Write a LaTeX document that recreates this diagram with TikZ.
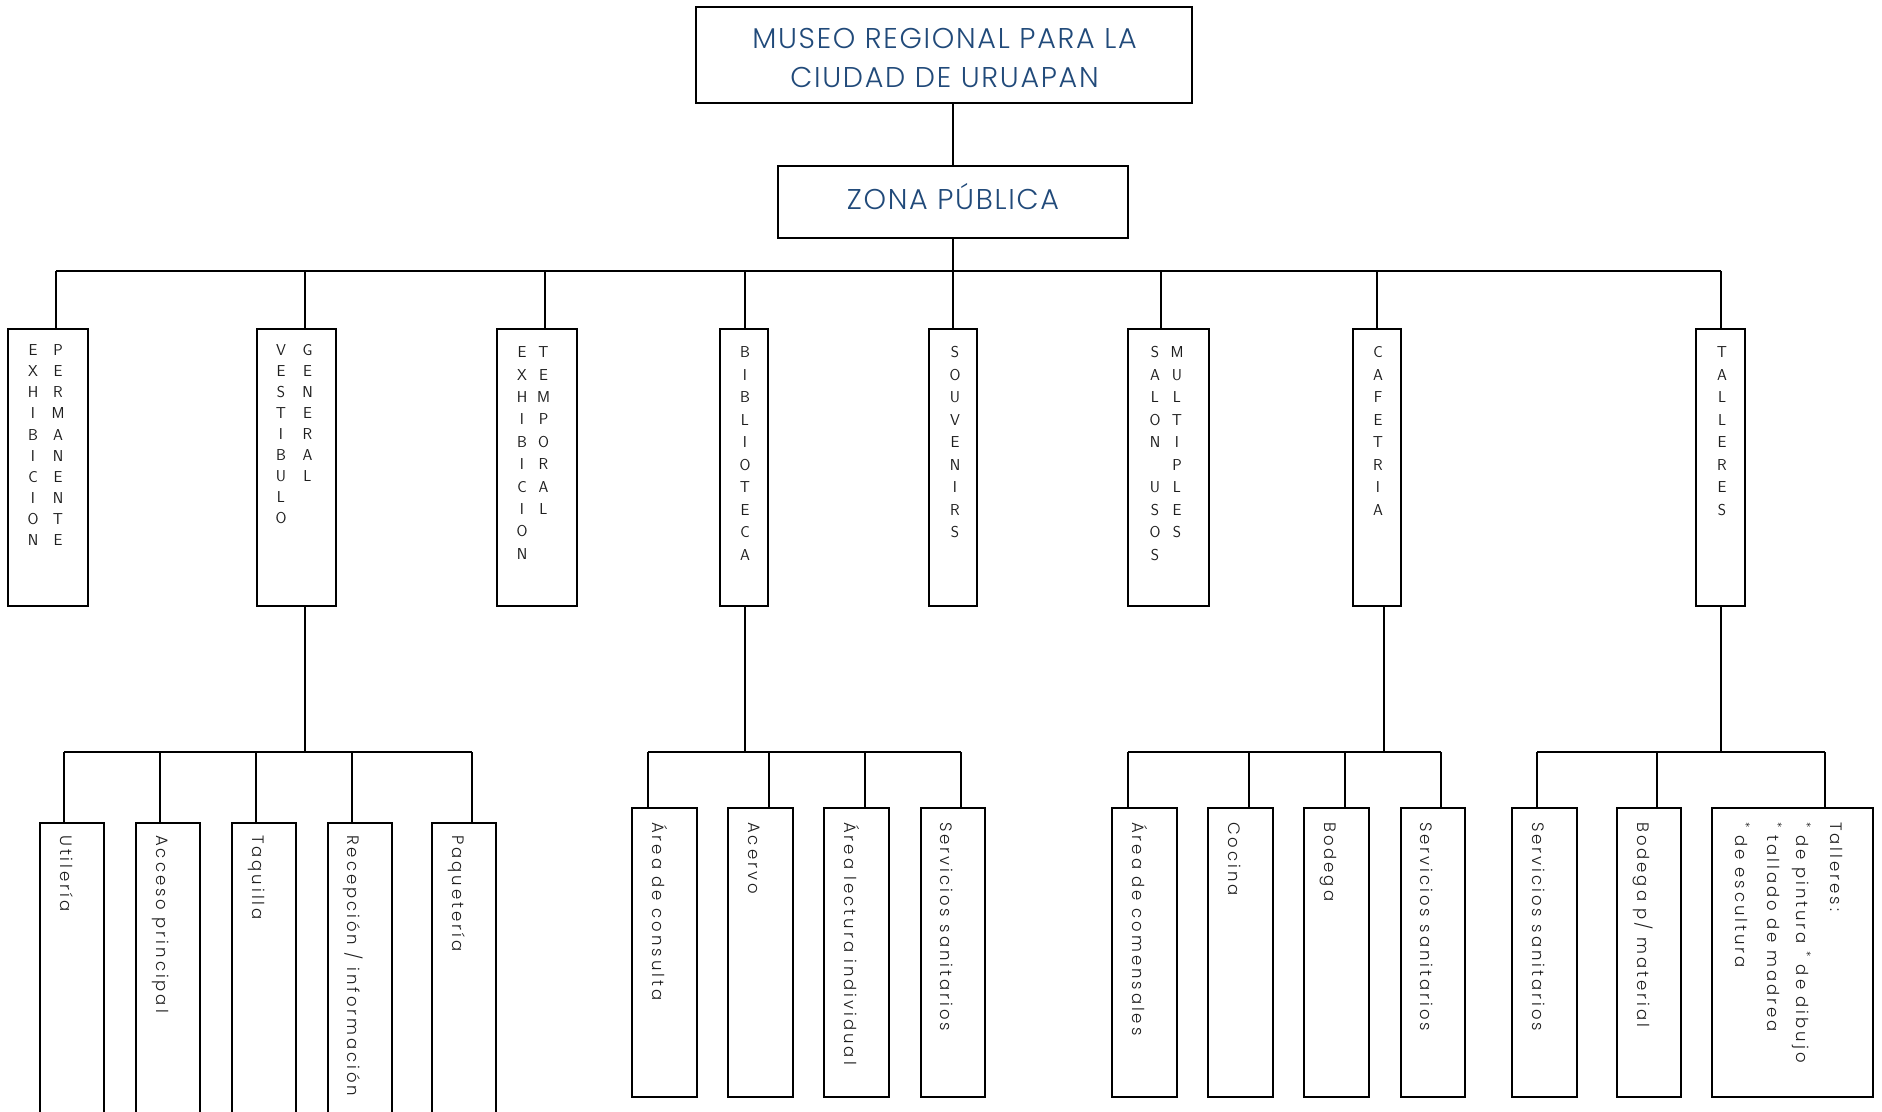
\documentclass[tikz,border=0pt]{standalone}
\usepackage{fontspec}
\newfontfamily\titlefont{Poppins Light}[LetterSpace=6]
\newfontfamily\labelfont{Poppins Light}[LetterSpace=18]
\definecolor{titleblue}{RGB}{33,74,122}
\definecolor{ink}{RGB}{30,30,30}
\begin{document}
\begin{tikzpicture}[x=1pt,y=-1pt,
  box/.style={draw=black, line width=2pt, inner sep=0pt, outer sep=0pt},
  ln/.style={line width=2pt},
  col/.style={font=\sffamily\fontsize{15.8}{#1}\selectfont, align=center, inner sep=0pt, anchor=north, text=ink},
  lbl/.style={font=\labelfont\fontsize{16.5}{16.5}\selectfont, rotate=-90, anchor=base west, inner sep=0pt, text=ink},
  ttl/.style={font=\titlefont\fontsize{28.6}{39}\selectfont, align=center, inner sep=0pt, text=titleblue}]
\clip (0,0) rectangle (1882,1111);
\fill[white] (0,0) rectangle (1882,1111);

% top boxes
\node[box, minimum width=496pt, minimum height=96pt] (title) at (944,55) {};
\node[ttl] (titletext) at (944.5,57.5) {MUSEO REGIONAL PARA LA\\CIUDAD DE URUAPAN};
\node[box, minimum width=350pt, minimum height=72pt] (zona) at (953,202) {};
\node[ttl] (zonatext) at (953,197) {ZONA PÚBLICA};

% level 1 boxes
\node[box, minimum width=80pt, minimum height=277pt] (e1) at (48,467.5) {};
\node[box, minimum width=79pt, minimum height=277pt] (e2) at (296.5,467.5) {};
\node[box, minimum width=80pt, minimum height=277pt] (e3) at (537,467.5) {};
\node[box, minimum width=48pt, minimum height=277pt] (e4) at (744,467.5) {};
\node[box, minimum width=48pt, minimum height=277pt] (e5) at (953,467.5) {};
\node[box, minimum width=81pt, minimum height=277pt] (e6) at (1168.5,467.5) {};
\node[box, minimum width=48pt, minimum height=277pt] (e7) at (1377,467.5) {};
\node[box, minimum width=49pt, minimum height=277pt] (e8) at (1720.5,467.5) {};

% level 1 letters
\node[col=21.1] (e1a) at (33,344.5) {E\\X\\H\\I\\B\\I\\C\\I\\O\\N};
\node[col=21.1] (e1b) at (58,344.5) {P\\E\\R\\M\\A\\N\\E\\N\\T\\E};
\node[col=21.0] (e2a) at (281,344.5) {V\\E\\S\\T\\I\\B\\U\\L\\O};
\node[col=21.0] (e2b) at (307.5,344.5) {G\\E\\N\\E\\R\\A\\L};
\node[col=22.4] (e3a) at (522,346.5) {E\\X\\H\\I\\B\\I\\C\\I\\O\\N};
\node[col=22.4] (e3b) at (543.5,346.5) {T\\E\\M\\P\\O\\R\\A\\L};
\node[col=22.5] (e4a) at (745,346.5) {B\\I\\B\\L\\I\\O\\T\\E\\C\\A};
\node[col=22.5] (e5a) at (955,346.5) {S\\O\\U\\V\\E\\N\\I\\R\\S};
\node[col=22.5] (e6a) at (1155,346.5) {S\\A\\L\\O\\N\\~\\U\\S\\O\\S};
\node[col=22.5] (e6b) at (1177,346.5) {M\\U\\L\\T\\I\\P\\L\\E\\S};
\node[col=22.5] (e7a) at (1378,346.5) {C\\A\\F\\E\\T\\R\\I\\A};
\node[col=22.5] (e8a) at (1722,346.5) {T\\A\\L\\L\\E\\R\\E\\S};

% level 2 boxes: vestibulo
\node[box, minimum width=64pt, minimum height=307pt] (v1) at (72,976.5) {};
\node[box, minimum width=64pt, minimum height=307pt] (v2) at (168,976.5) {};
\node[box, minimum width=64pt, minimum height=307pt] (v3) at (264,976.5) {};
\node[box, minimum width=64pt, minimum height=307pt] (v4) at (360,976.5) {};
\node[box, minimum width=64pt, minimum height=307pt] (v5) at (464,976.5) {};
% biblioteca
\node[box, minimum width=65pt, minimum height=289pt] (b1) at (664.5,952.5) {};
\node[box, minimum width=65pt, minimum height=289pt] (b2) at (760.5,952.5) {};
\node[box, minimum width=65pt, minimum height=289pt] (b3) at (856.5,952.5) {};
\node[box, minimum width=64pt, minimum height=289pt] (b4) at (953,952.5) {};
% cafeteria
\node[box, minimum width=65pt, minimum height=289pt] (c1) at (1144.5,952.5) {};
\node[box, minimum width=65pt, minimum height=289pt] (c2) at (1240.5,952.5) {};
\node[box, minimum width=65pt, minimum height=289pt] (c3) at (1336.5,952.5) {};
\node[box, minimum width=64pt, minimum height=289pt] (c4) at (1433,952.5) {};
% talleres
\node[box, minimum width=65pt, minimum height=289pt] (t1) at (1544.5,952.5) {};
\node[box, minimum width=64pt, minimum height=289pt] (t2) at (1649,952.5) {};
\node[box, minimum width=161pt, minimum height=289pt] (t3) at (1792.5,952.5) {};

% level 2 labels
\node[lbl] (v1t) at (60,835) {Utilería};
\node[lbl] (v2t) at (156,835) {Acceso principal};
\node[lbl] (v3t) at (252,835) {Taquilla};
\node[lbl] (v4t) at (347,835) {Recepción / información};
\node[lbl] (v5t) at (452,835) {Paquetería};
\node[lbl] (b1t) at (652,822) {Área de consulta};
\node[lbl] (b2t) at (748,822) {Acervo};
\node[lbl] (b3t) at (844,822) {Área lectura individual};
\node[lbl] (b4t) at (940,822) {Servicios sanitarios};
\node[lbl] (c1t) at (1132,822) {Área de comensales};
\node[lbl] (c2t) at (1228,822) {Cocina};
\node[lbl] (c3t) at (1324,822) {Bodega};
\node[lbl] (c4t) at (1420,822) {Servicios sanitarios};
\node[lbl] (t1t) at (1532,822) {Servicios sanitarios};
\node[lbl] (t2t) at (1637,822) {Bodega p/ material};
\node[lbl] (t3a) at (1830,822) {Talleres:};
\node[lbl] (t3b) at (1796,822) {\textsuperscript{*} de pintura \textsuperscript{*} de dibujo};
\node[lbl] (t3c) at (1767,822) {\textsuperscript{*} tallado de madrea};
\node[lbl] (t3d) at (1735,822) {\textsuperscript{*} de escultura};

% connectors top
\coordinate (zb) at (953,271);
\draw[ln] (zona.north) -- (zona.north |- title.south);
\draw[ln] (zona.south) -- (zb);
\coordinate (k1) at (56,271);
\coordinate (k2) at (305,271);
\coordinate (k3) at (545,271);
\coordinate (k4) at (745,271);
\coordinate (k5) at (953,271);
\coordinate (k6) at (1161,271);
\coordinate (k7) at (1377,271);
\coordinate (k8) at (1721,271);
\draw[ln] (k1) -- (k8);
\foreach \i in {1,...,8} {\draw[ln] (k\i) -- (k\i |- e\i.north);}

% vestibulo branch
\coordinate (vb) at (305,752);
\draw[ln] (vb |- e2.south) -- (vb);
\coordinate (vk1) at (64,752);
\coordinate (vk2) at (160,752);
\coordinate (vk3) at (256,752);
\coordinate (vk4) at (352,752);
\coordinate (vk5) at (472,752);
\draw[ln] (vk1) -- (vk5);
\foreach \i in {1,...,5} {\draw[ln] (vk\i) -- (vk\i |- v\i.north);}

% biblioteca branch
\coordinate (bb) at (745,752);
\draw[ln] (bb |- e4.south) -- (bb);
\coordinate (bk1) at (648,752);
\coordinate (bk2) at (769,752);
\coordinate (bk3) at (865,752);
\coordinate (bk4) at (961,752);
\draw[ln] (bk1) -- (bk4);
\foreach \i in {1,...,4} {\draw[ln] (bk\i) -- (bk\i |- b\i.north);}

% cafeteria branch
\coordinate (cb) at (1384,752);
\draw[ln] (cb |- e7.south) -- (cb);
\coordinate (ck1) at (1128,752);
\coordinate (ck2) at (1249,752);
\coordinate (ck3) at (1345,752);
\coordinate (ck4) at (1441,752);
\draw[ln] (ck1) -- (ck4);
\foreach \i in {1,...,4} {\draw[ln] (ck\i) -- (ck\i |- c\i.north);}

% talleres branch
\coordinate (tb) at (1721,752);
\draw[ln] (tb |- e8.south) -- (tb);
\coordinate (tk1) at (1537,752);
\coordinate (tk2) at (1657,752);
\coordinate (tk3) at (1825,752);
\draw[ln] (tk1) -- (tk3);
\foreach \i in {1,...,3} {\draw[ln] (tk\i) -- (tk\i |- t\i.north);}
\end{tikzpicture}
\end{document}
